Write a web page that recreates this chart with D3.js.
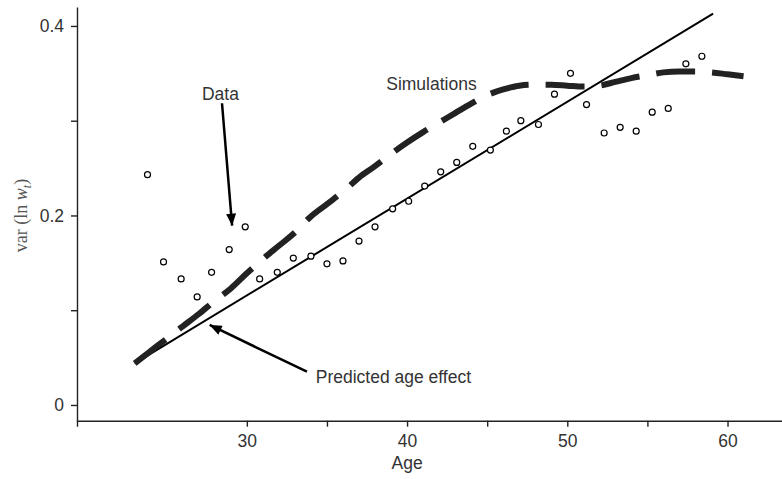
<!DOCTYPE html>
<html lang="en">
<head>
    <meta charset="utf-8">
    <script type="text/javascript" src="https://d3js.org/d3.v7.min.js"></script>
</head>
<style>
    body { margin: 0; background: #fff; }
    text { font-family: "Liberation Sans", Arial, Helvetica, sans-serif; }
</style>
<body>
<div id="chart"></div>
<script type="text/javascript">
  // observed variance of log wages by age (circles)
  const dataAges = [23.8, 24.8, 25.9, 26.9, 27.8, 28.9, 29.9, 30.8, 31.9, 32.9, 34.0, 35.0, 36.0, 37.0,
    38.0, 39.1, 40.1, 41.1, 42.1, 43.1, 44.1, 45.2, 46.2, 47.1, 48.2, 49.2, 50.2, 51.2, 52.3, 53.3,
    54.3, 55.3, 56.3, 57.4, 58.4];
  const dataValues = [0.243, 0.151, 0.133, 0.114, 0.140, 0.164, 0.188, 0.133, 0.140, 0.155, 0.157, 0.149,
    0.152, 0.173, 0.188, 0.207, 0.215, 0.231, 0.246, 0.256, 0.273, 0.269, 0.289, 0.300, 0.296, 0.328,
    0.350, 0.317, 0.287, 0.293, 0.289, 0.309, 0.313, 0.360, 0.368];

  // simulated profile (thick dashed)
  const simAges = [23, 24, 25, 26, 27, 28, 29, 30, 31, 32, 33, 34, 35, 36, 37, 38, 39, 40, 41, 42,
    43, 44, 45, 46, 47, 48, 49, 50, 51, 52, 53, 54, 55, 56, 57, 58, 59, 60, 61];
  const simValues = [0.044, 0.057, 0.070, 0.083, 0.096, 0.110, 0.123, 0.139, 0.154, 0.168, 0.182, 0.199,
    0.212, 0.225, 0.240, 0.252, 0.265, 0.277, 0.288, 0.298, 0.308, 0.318, 0.327, 0.333, 0.337, 0.338,
    0.338, 0.337, 0.336, 0.337, 0.341, 0.345, 0.348, 0.351, 0.352, 0.352, 0.351, 0.349, 0.347];

  // predicted age effect (straight line)
  const predAges = [23, 59.1];
  const predValues = [0.044, 0.413];

  const xTicks = [30, 35, 40, 45, 50, 55, 60];
  const xLabels = [30, 40, 50, 60];
  const yTicks = [0, 0.1, 0.2, 0.3, 0.4];
  const yLabels = [0, 0.2, 0.4];

  // annotations, in data units
  const labels = [
    {text: "Data", x: 28.35, y: 0.322, anchor: "middle"},
    {text: "Simulations", x: 38.7, y: 0.3325, anchor: "start"},
    {text: "Predicted age effect", x: 34.3, y: 0.0232, anchor: "start"}
  ];
  const arrows = [
    {x1: 28.45, y1: 0.3184, x2: 29.08, y2: 0.1892},
    {x1: 33.75, y1: 0.0351, x2: 27.68, y2: 0.0844}
  ];

  const svgWidth = 782, svgHeight = 479;

  const svg = d3.select("#chart")
    .append("svg")
    .attr("width", svgWidth)
    .attr("height", svgHeight);

  const x = d3.scaleLinear().domain([19.4, 63.65]).range([77, 786]);
  const y = d3.scaleLinear().domain([-0.0166, 0.42]).range([420.7, 7]);

  // arrow head
  svg.append("defs").append("marker")
    .attr("id", "head")
    .attr("markerUnits", "userSpaceOnUse")
    .attr("viewBox", "0 -5 12 10")
    .attr("refX", 12).attr("refY", 0)
    .attr("markerWidth", 13).attr("markerHeight", 10)
    .attr("orient", "auto")
    .append("path")
    .attr("d", "M0,-5L12,0L0,5Z")
    .attr("fill", "#000");

  // axes
  const xAxis = svg.append("g")
    .attr("transform", "translate(0," + y(-0.0166) + ")")
    .call(d3.axisBottom(x).tickValues(xTicks).tickSize(6).tickSizeOuter(6)
      .tickFormat(d => xLabels.includes(d) ? d : ""));
  xAxis.selectAll("text").attr("font-size", 17.5).attr("fill", "#333").attr("dy", "1em");

  const yAxis = svg.append("g")
    .attr("transform", "translate(" + x(19.4) + ",0)")
    .call(d3.axisLeft(y).tickValues(yTicks).tickSize(6).tickSizeOuter(0)
      .tickFormat(d => yLabels.includes(d) ? d3.format("")(d) : ""));
  yAxis.selectAll("text").attr("font-size", 17.5).attr("fill", "#333").attr("x", -13);

  svg.selectAll(".domain, .tick line").attr("stroke", "#222").attr("stroke-width", 1.4);

  svg.append("text")
    .attr("x", x(40)).attr("y", 469)
    .attr("text-anchor", "middle")
    .attr("font-size", 17.5).attr("fill", "#333")
    .text("Age");

  const yTitle = svg.append("text")
    .attr("transform", "translate(27," + y(0.2) + ")rotate(-90)")
    .attr("text-anchor", "middle")
    .attr("font-size", 18).attr("fill", "#555")
    .style("font-family", "'Liberation Serif', 'Times New Roman', serif");
  yTitle.append("tspan").text("var (ln ");
  yTitle.append("tspan").attr("font-style", "italic").text("w");
  yTitle.append("tspan").attr("font-style", "italic").attr("font-size", 12).attr("dy", 4).text("t");
  yTitle.append("tspan").attr("dy", -4).text(")");

  // predicted age effect
  const pts = predAges.map((a, i) => [a, predValues[i]]);
  svg.append("path")
    .datum(pts)
    .attr("fill", "none")
    .attr("stroke", "#000")
    .attr("stroke-width", 2)
    .attr("d", d3.line().x(d => x(d[0])).y(d => y(d[1])));

  // simulations
  const sim = simAges.map((a, i) => [a, simValues[i]]);
  svg.append("path")
    .datum(sim)
    .attr("fill", "none")
    .attr("stroke", "#222")
    .attr("stroke-width", 6)
    .attr("stroke-dasharray", "39,17")
    .attr("d", d3.line().curve(d3.curveMonotoneX).x(d => x(d[0])).y(d => y(d[1])));

  // data circles
  svg.append("g").selectAll("circle")
    .data(dataAges.map((a, i) => [a, dataValues[i]]))
    .enter().append("circle")
    .attr("cx", d => x(d[0]))
    .attr("cy", d => y(d[1]))
    .attr("r", 3)
    .attr("fill", "#fff")
    .attr("stroke", "#000")
    .attr("stroke-width", 1.2);

  // annotations
  svg.append("g").selectAll("line")
    .data(arrows)
    .enter().append("line")
    .attr("x1", d => x(d.x1)).attr("y1", d => y(d.y1))
    .attr("x2", d => x(d.x2)).attr("y2", d => y(d.y2))
    .attr("stroke", "#000")
    .attr("stroke-width", 2.5)
    .attr("marker-end", "url(#head)");

  svg.append("g").selectAll("text")
    .data(labels)
    .enter().append("text")
    .attr("x", d => x(d.x)).attr("y", d => y(d.y))
    .attr("text-anchor", d => d.anchor)
    .attr("font-size", 17.5).attr("fill", "#333")
    .text(d => d.text);
</script>
</body>
</html>
